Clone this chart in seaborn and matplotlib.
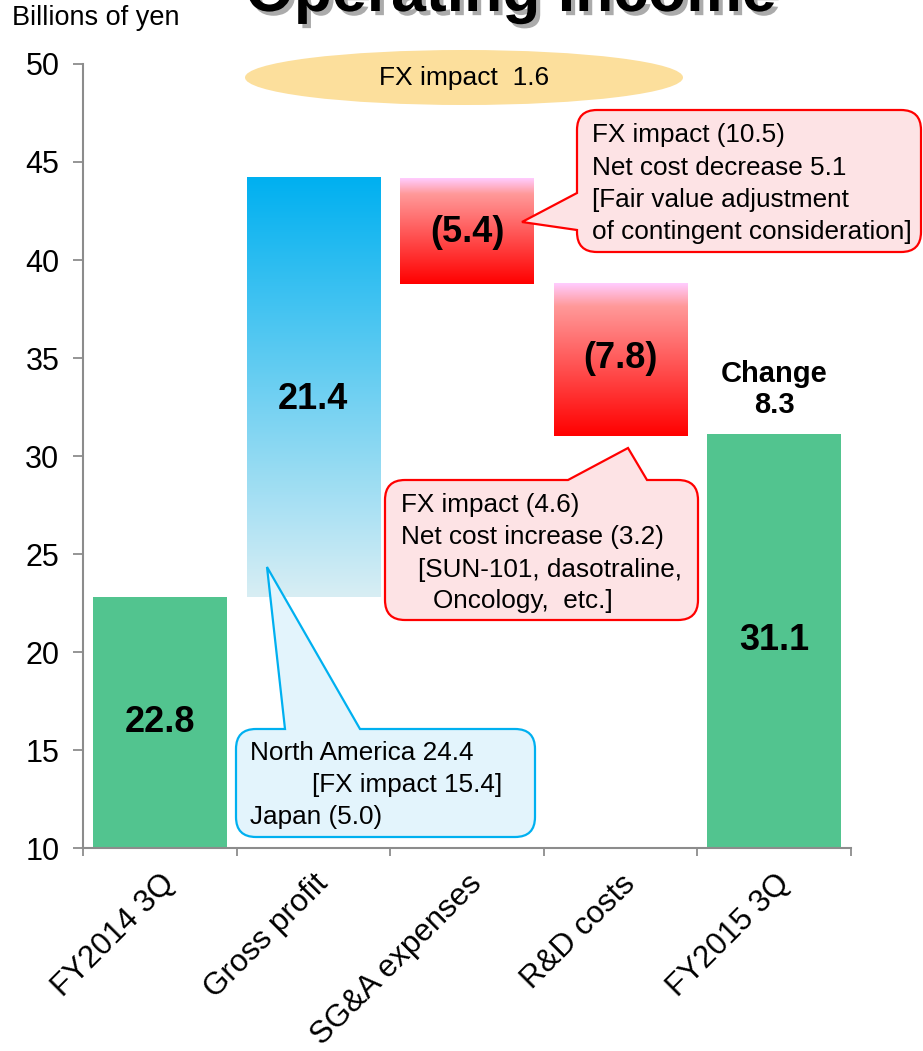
import numpy as np
import matplotlib
matplotlib.use("Agg")
import matplotlib.pyplot as plt
import matplotlib.patheffects as pe
from matplotlib.path import Path
from matplotlib.patches import PathPatch, Ellipse
from matplotlib.transforms import Affine2D
from matplotlib.colors import LinearSegmentedColormap
import seaborn as sns
import pandas as pd

# ---------------- data ----------------
categories = ["FY2014 3Q", "Gross profit", "SG&A expenses", "R&D costs", "FY2015 3Q"]
start_value = 22.8
step_changes = [21.4, -5.4, -7.8]
final_value = 31.1
value_labels = ["22.8", "21.4", "(5.4)", "(7.8)", "31.1"]
value_label_y = [16.4, 32.9, 41.4, 35.0, 20.6]
y_ticks = [10, 15, 20, 25, 30, 35, 40, 45, 50]
change_label = "Change\n8.3"
change_label_y = 33.4

# waterfall geometry derived from the values
bottoms, tops = [0.0], [start_value]
level = start_value
for c in step_changes:
    new = level + c
    bottoms.append(min(level, new))
    tops.append(max(level, new))
    level = new
bottoms.append(0.0)
tops.append(final_value)

W, H = 923, 1051
sns.set_style("white")
plt.rcParams["font.family"] = ["Liberation Sans", "DejaVu Sans"]
plt.rcParams["text.color"] = "black"
plt.rcParams["xtick.color"] = "black"
plt.rcParams["ytick.color"] = "black"
plt.rcParams["xtick.labelcolor"] = "black"
plt.rcParams["ytick.labelcolor"] = "black"

fig = plt.figure(figsize=(W / 100, H / 100), dpi=100)
ax = fig.add_axes([83 / W, 1 - 848 / H, (851 - 83) / W, (848 - 64) / H])

df = pd.DataFrame({"category": categories, "top": tops})
sns.barplot(data=df, x="category", y="top", color="#52C48F", width=0.87,
            saturation=1, ax=ax, zorder=2)

patches = list(ax.patches)
for p, b, t in zip(patches, bottoms, tops):
    p.set_y(b)
    p.set_height(t - b)
    p.set_facecolor("#52C48F")
    p.set_edgecolor("none")

blue_cmap = LinearSegmentedColormap.from_list("blue", ["#D8EEF4", "#00B0F0"])
red_cmap = LinearSegmentedColormap.from_list(
    "red", [(0.0, "#FF0000"), (0.85, "#FF9999"), (1.0, "#FFCCFF")])
grad = np.linspace(0, 1, 256).reshape(-1, 1)
for idx, cmap in [(1, blue_cmap), (2, red_cmap), (3, red_cmap)]:
    p = patches[idx]
    x0, w, y0, h = p.get_x(), p.get_width(), p.get_y(), p.get_height()
    ax.imshow(grad, extent=[x0, x0 + w, y0, y0 + h], origin="lower",
              aspect="auto", cmap=cmap, zorder=2, interpolation="bicubic")
    p.set_facecolor("none")

ax.set_xlim(-0.5, len(categories) - 0.5)
ax.set_ylim(10, 50)
ax.set_yticks(y_ticks)
ax.set_yticklabels([str(v) for v in y_ticks], fontsize=22)
ax.set_xticks(range(len(categories)))
ax.set_xticklabels(categories, fontsize=22.5, rotation=45, ha="right",
                   va="top", rotation_mode="anchor")
ax.set_xticks(np.arange(-0.5, len(categories), 1.0), minor=True)
ax.tick_params(axis="x", which="major", length=0, pad=15, bottom=True)
ax.tick_params(axis="x", which="minor", length=6, width=1.3, color="#8C8C8C",
               direction="out", bottom=True)
ax.tick_params(axis="y", length=7, width=1.3, color="#8C8C8C", direction="out",
               pad=10, left=True)
ax.set_xlabel("")
ax.set_ylabel("")
for s in ["top", "right"]:
    ax.spines[s].set_visible(False)
for s in ["left", "bottom"]:
    ax.spines[s].set_color("#8C8C8C")
    ax.spines[s].set_linewidth(1.5)
ax.grid(False)

for i, (lab, yv) in enumerate(zip(value_labels, value_label_y)):
    ax.text(i, yv, lab, ha="center", va="center", fontsize=26,
            fontweight="bold", color="black", zorder=5)
ax.text(len(categories) - 1, change_label_y, change_label, ha="center",
        va="center", fontsize=21, fontweight="bold", linespacing=1.15)

# ---------------- annotations in pixel layout ----------------
pix = Affine2D().scale(1 / W, -1 / H).translate(0, 1) + fig.transFigure


def callout_path(x0, y0, x1, y1, r, side, b1, b2, tip):
    v, c = [], []

    def M(p):
        v.append(p); c.append(Path.MOVETO)

    def L(p):
        v.append(p); c.append(Path.LINETO)

    def Q(ctrl, end):
        v.extend([ctrl, end]); c.extend([Path.CURVE3, Path.CURVE3])

    M((x0 + r, y0))
    if side == "top":
        L((b1, y0)); L(tip); L((b2, y0))
    L((x1 - r, y0)); Q((x1, y0), (x1, y0 + r))
    L((x1, y1 - r)); Q((x1, y1), (x1 - r, y1))
    L((x0 + r, y1)); Q((x0, y1), (x0, y1 - r))
    if side == "left":
        L((x0, b2)); L(tip); L((x0, b1))
    L((x0, y0 + r)); Q((x0, y0), (x0 + r, y0))
    v.append((x0 + r, y0)); c.append(Path.CLOSEPOLY)
    return Path(v, c)


red_face, red_edge = "#FDE3E5", "#FF0000"
blue_face, blue_edge = "#E3F4FC", "#00B0F0"

callouts = [
    dict(box=(577, 110, 921, 252), side="left", b=(193, 230), tip=(522, 222),
         face=red_face, edge=red_edge),
    dict(box=(385, 480, 698, 620), side="top", b=(568, 647), tip=(628, 448),
         face=red_face, edge=red_edge),
    dict(box=(236, 729, 535, 837), side="top", b=(285, 360), tip=(267, 567),
         face=blue_face, edge=blue_edge),
]
for co in callouts:
    x0, y0, x1, y1 = co["box"]
    path = callout_path(x0, y0, x1, y1, 20, co["side"], co["b"][0], co["b"][1],
                        co["tip"])
    fig.add_artist(PathPatch(path, facecolor=co["face"], edgecolor=co["edge"],
                             lw=1.6, transform=pix, zorder=3))

callout_lines = [
    (592, 135, "FX impact (10.5)"),
    (592, 168, "Net cost decrease 5.1"),
    (592, 200, "[Fair value adjustment"),
    (592, 232, "of contingent consideration]"),
    (401, 505, "FX impact (4.6)"),
    (401, 537, "Net cost increase (3.2)"),
    (418, 570, "[SUN-101, dasotraline,"),
    (433, 601, "Oncology,  etc.]"),
    (250, 753, "North America 24.4"),
    (312, 785, "[FX impact 15.4]"),
    (250, 817, "Japan (5.0)"),
]
for x, y, s in callout_lines:
    fig.text(x, y, s, transform=pix, ha="left", va="center", fontsize=18.8,
             zorder=4)

fig.add_artist(Ellipse((464, 77.5), 438, 55, facecolor="#FCDF9C",
                       edgecolor="none", transform=pix, zorder=3))
fig.text(464, 77.5, "FX impact  1.6", transform=pix, ha="center",
         va="center", fontsize=19, zorder=4)

fig.text(12, 18, "Billions of yen", transform=pix, ha="left", va="center",
         fontsize=19.5)
fig.text(511, 11, "Operating Income", transform=pix, ha="center",
         va="baseline", fontsize=45, fontweight="bold",
         path_effects=[pe.withSimplePatchShadow(offset=(3, -3),
                                                shadow_rgbFace="0.45",
                                                alpha=0.6)])

fig.savefig("out.png", dpi=100)
